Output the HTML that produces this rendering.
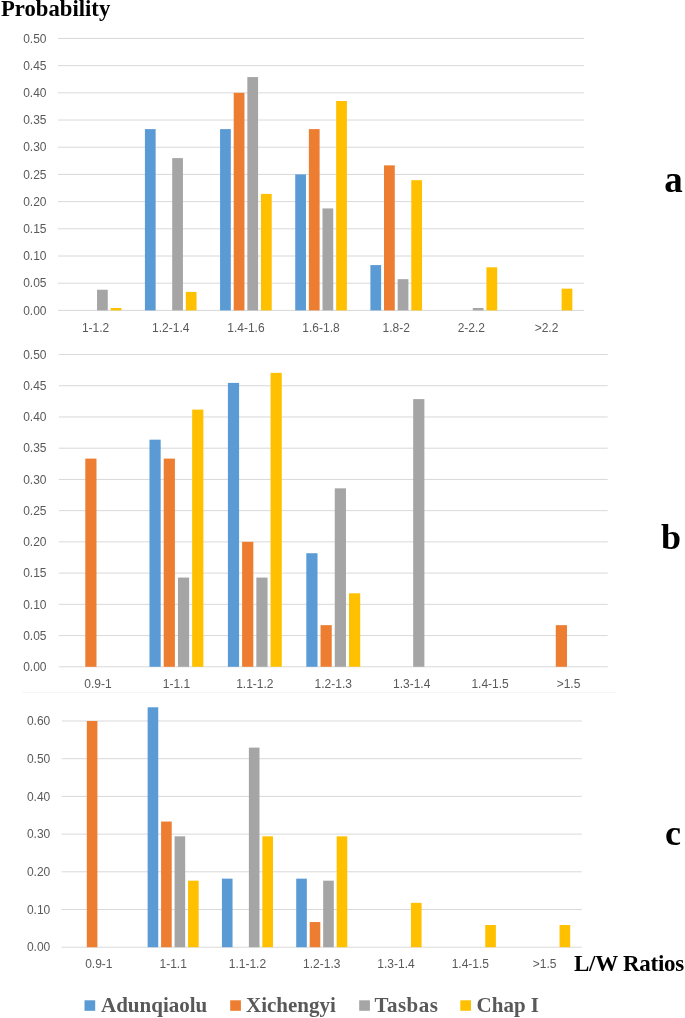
<!DOCTYPE html>
<html><head><meta charset="utf-8"><style>
html,body{margin:0;padding:0;background:#fff;}
body{width:685px;height:1018px;overflow:hidden;position:relative;}
svg{position:absolute;left:0;top:0;will-change:transform;}
.yl{font-family:"Liberation Sans",sans-serif;font-size:12px;fill:#595959;text-anchor:end;}
.xl{font-family:"Liberation Sans",sans-serif;font-size:12px;fill:#595959;text-anchor:middle;}
.big{font-family:"Liberation Serif",serif;font-weight:bold;fill:#000;}
.lg{font-family:"Liberation Serif",serif;font-weight:bold;font-size:21px;fill:#595959;}
</style></head><body>
<svg width="685" height="1018" viewBox="0 0 685 1018">
<rect x="0" y="0" width="685" height="1018" fill="#fff"/>
<rect x="22" y="692" width="594" height="1" fill="#F6F6F6"/>
<rect x="58.00" y="309.90" width="526.10" height="1" fill="#D9D9D9"/>
<text class="yl" x="46.50" y="314.60">0.00</text>
<rect x="58.00" y="282.70" width="526.10" height="1" fill="#D9D9D9"/>
<text class="yl" x="46.50" y="287.40">0.05</text>
<rect x="58.00" y="255.51" width="526.10" height="1" fill="#D9D9D9"/>
<text class="yl" x="46.50" y="260.21">0.10</text>
<rect x="58.00" y="228.31" width="526.10" height="1" fill="#D9D9D9"/>
<text class="yl" x="46.50" y="233.01">0.15</text>
<rect x="58.00" y="201.12" width="526.10" height="1" fill="#D9D9D9"/>
<text class="yl" x="46.50" y="205.82">0.20</text>
<rect x="58.00" y="173.92" width="526.10" height="1" fill="#D9D9D9"/>
<text class="yl" x="46.50" y="178.62">0.25</text>
<rect x="58.00" y="146.73" width="526.10" height="1" fill="#D9D9D9"/>
<text class="yl" x="46.50" y="151.43">0.30</text>
<rect x="58.00" y="119.53" width="526.10" height="1" fill="#D9D9D9"/>
<text class="yl" x="46.50" y="124.23">0.35</text>
<rect x="58.00" y="92.34" width="526.10" height="1" fill="#D9D9D9"/>
<text class="yl" x="46.50" y="97.04">0.40</text>
<rect x="58.00" y="65.14" width="526.10" height="1" fill="#D9D9D9"/>
<text class="yl" x="46.50" y="69.84">0.45</text>
<rect x="58.00" y="37.95" width="526.10" height="1" fill="#D9D9D9"/>
<text class="yl" x="46.50" y="42.65">0.50</text>
<rect x="97.03" y="289.73" width="10.74" height="20.67" fill="#A5A5A5"/>
<rect x="110.66" y="308.01" width="10.74" height="2.39" fill="#FFC000"/>
<text class="xl" x="95.58" y="331.70">1-1.2</text>
<rect x="144.91" y="129.10" width="10.74" height="181.30" fill="#5B9BD5"/>
<rect x="172.19" y="158.11" width="10.74" height="152.29" fill="#A5A5A5"/>
<rect x="185.82" y="291.91" width="10.74" height="18.49" fill="#FFC000"/>
<text class="xl" x="170.74" y="331.70">1.2-1.4</text>
<rect x="220.07" y="129.10" width="10.74" height="181.30" fill="#5B9BD5"/>
<rect x="233.71" y="92.84" width="10.74" height="217.56" fill="#ED7D31"/>
<rect x="247.34" y="77.07" width="10.74" height="233.33" fill="#A5A5A5"/>
<rect x="260.98" y="193.90" width="10.74" height="116.50" fill="#FFC000"/>
<text class="xl" x="245.89" y="331.70">1.4-1.6</text>
<rect x="295.23" y="174.42" width="10.74" height="135.97" fill="#5B9BD5"/>
<rect x="308.86" y="129.10" width="10.74" height="181.30" fill="#ED7D31"/>
<rect x="322.50" y="208.42" width="10.74" height="101.98" fill="#A5A5A5"/>
<rect x="336.14" y="101.00" width="10.74" height="209.40" fill="#FFC000"/>
<text class="xl" x="321.05" y="331.70">1.6-1.8</text>
<rect x="370.39" y="265.07" width="10.74" height="45.32" fill="#5B9BD5"/>
<rect x="384.02" y="165.36" width="10.74" height="145.04" fill="#ED7D31"/>
<rect x="397.66" y="279.18" width="10.74" height="31.22" fill="#A5A5A5"/>
<rect x="411.29" y="180.19" width="10.74" height="130.21" fill="#FFC000"/>
<text class="xl" x="396.21" y="331.70">1.8-2</text>
<rect x="472.81" y="308.01" width="10.74" height="2.39" fill="#A5A5A5"/>
<rect x="486.45" y="267.32" width="10.74" height="43.08" fill="#FFC000"/>
<text class="xl" x="471.36" y="331.70">2-2.2</text>
<rect x="561.61" y="288.64" width="10.74" height="21.76" fill="#FFC000"/>
<text class="xl" x="546.52" y="331.70">&gt;2.2</text>
<rect x="58.80" y="666.30" width="548.90" height="1" fill="#D9D9D9"/>
<text class="yl" x="46.50" y="671.00">0.00</text>
<rect x="58.80" y="635.07" width="548.90" height="1" fill="#D9D9D9"/>
<text class="yl" x="46.50" y="639.77">0.05</text>
<rect x="58.80" y="603.84" width="548.90" height="1" fill="#D9D9D9"/>
<text class="yl" x="46.50" y="608.54">0.10</text>
<rect x="58.80" y="572.61" width="548.90" height="1" fill="#D9D9D9"/>
<text class="yl" x="46.50" y="577.31">0.15</text>
<rect x="58.80" y="541.38" width="548.90" height="1" fill="#D9D9D9"/>
<text class="yl" x="46.50" y="546.08">0.20</text>
<rect x="58.80" y="510.15" width="548.90" height="1" fill="#D9D9D9"/>
<text class="yl" x="46.50" y="514.85">0.25</text>
<rect x="58.80" y="478.92" width="548.90" height="1" fill="#D9D9D9"/>
<text class="yl" x="46.50" y="483.62">0.30</text>
<rect x="58.80" y="447.69" width="548.90" height="1" fill="#D9D9D9"/>
<text class="yl" x="46.50" y="452.39">0.35</text>
<rect x="58.80" y="416.46" width="548.90" height="1" fill="#D9D9D9"/>
<text class="yl" x="46.50" y="421.16">0.40</text>
<rect x="58.80" y="385.23" width="548.90" height="1" fill="#D9D9D9"/>
<text class="yl" x="46.50" y="389.93">0.45</text>
<rect x="58.80" y="354.00" width="548.90" height="1" fill="#D9D9D9"/>
<text class="yl" x="46.50" y="358.70">0.50</text>
<rect x="85.29" y="458.60" width="11.20" height="208.20" fill="#ED7D31"/>
<text class="xl" x="98.01" y="687.70">0.9-1</text>
<rect x="149.48" y="439.67" width="11.20" height="227.13" fill="#5B9BD5"/>
<rect x="163.71" y="458.60" width="11.20" height="208.20" fill="#ED7D31"/>
<rect x="177.93" y="577.57" width="11.20" height="89.23" fill="#A5A5A5"/>
<rect x="192.16" y="409.61" width="11.20" height="257.19" fill="#FFC000"/>
<text class="xl" x="176.42" y="687.70">1-1.1</text>
<rect x="227.89" y="382.89" width="11.20" height="283.91" fill="#5B9BD5"/>
<rect x="242.12" y="541.88" width="11.20" height="124.92" fill="#ED7D31"/>
<rect x="256.35" y="577.57" width="11.20" height="89.23" fill="#A5A5A5"/>
<rect x="270.57" y="372.87" width="11.20" height="293.93" fill="#FFC000"/>
<text class="xl" x="254.84" y="687.70">1.1-1.2</text>
<rect x="306.31" y="553.24" width="11.20" height="113.56" fill="#5B9BD5"/>
<rect x="320.54" y="625.16" width="11.20" height="41.64" fill="#ED7D31"/>
<rect x="334.76" y="488.34" width="11.20" height="178.46" fill="#A5A5A5"/>
<rect x="348.99" y="593.32" width="11.20" height="73.48" fill="#FFC000"/>
<text class="xl" x="333.25" y="687.70">1.2-1.3</text>
<rect x="413.18" y="399.11" width="11.20" height="267.69" fill="#A5A5A5"/>
<text class="xl" x="411.66" y="687.70">1.3-1.4</text>
<text class="xl" x="490.08" y="687.70">1.4-1.5</text>
<rect x="555.78" y="625.16" width="11.20" height="41.64" fill="#ED7D31"/>
<text class="xl" x="568.49" y="687.70">&gt;1.5</text>
<rect x="61.70" y="946.70" width="520.10" height="1" fill="#D9D9D9"/>
<text class="yl" x="50.30" y="951.40">0.00</text>
<rect x="61.70" y="909.00" width="520.10" height="1" fill="#D9D9D9"/>
<text class="yl" x="50.30" y="913.70">0.10</text>
<rect x="61.70" y="871.30" width="520.10" height="1" fill="#D9D9D9"/>
<text class="yl" x="50.30" y="876.00">0.20</text>
<rect x="61.70" y="833.60" width="520.10" height="1" fill="#D9D9D9"/>
<text class="yl" x="50.30" y="838.30">0.30</text>
<rect x="61.70" y="795.90" width="520.10" height="1" fill="#D9D9D9"/>
<text class="yl" x="50.30" y="800.60">0.40</text>
<rect x="61.70" y="758.20" width="520.10" height="1" fill="#D9D9D9"/>
<text class="yl" x="50.30" y="762.90">0.50</text>
<rect x="61.70" y="720.50" width="520.10" height="1" fill="#D9D9D9"/>
<text class="yl" x="50.30" y="725.20">0.60</text>
<rect x="86.80" y="721.00" width="10.61" height="226.20" fill="#ED7D31"/>
<text class="xl" x="98.85" y="967.70">0.9-1</text>
<rect x="147.62" y="707.29" width="10.61" height="239.91" fill="#5B9BD5"/>
<rect x="161.10" y="821.53" width="10.61" height="125.67" fill="#ED7D31"/>
<rect x="174.58" y="836.32" width="10.61" height="110.88" fill="#A5A5A5"/>
<rect x="188.06" y="880.67" width="10.61" height="66.53" fill="#FFC000"/>
<text class="xl" x="173.15" y="967.70">1-1.1</text>
<rect x="221.92" y="878.65" width="10.61" height="68.55" fill="#5B9BD5"/>
<rect x="248.88" y="747.61" width="10.61" height="199.59" fill="#A5A5A5"/>
<rect x="262.36" y="836.32" width="10.61" height="110.88" fill="#FFC000"/>
<text class="xl" x="247.45" y="967.70">1.1-1.2</text>
<rect x="296.22" y="878.65" width="10.61" height="68.55" fill="#5B9BD5"/>
<rect x="309.70" y="922.07" width="10.61" height="25.13" fill="#ED7D31"/>
<rect x="323.18" y="880.67" width="10.61" height="66.53" fill="#A5A5A5"/>
<rect x="336.66" y="836.32" width="10.61" height="110.88" fill="#FFC000"/>
<text class="xl" x="321.75" y="967.70">1.2-1.3</text>
<rect x="410.96" y="902.85" width="10.61" height="44.35" fill="#FFC000"/>
<text class="xl" x="396.05" y="967.70">1.3-1.4</text>
<rect x="485.26" y="925.02" width="10.61" height="22.18" fill="#FFC000"/>
<text class="xl" x="470.35" y="967.70">1.4-1.5</text>
<rect x="559.56" y="925.02" width="10.61" height="22.18" fill="#FFC000"/>
<text class="xl" x="544.65" y="967.70">&gt;1.5</text>
<text class="big" x="1" y="15.9" style="font-size:22.7px">Probability</text>
<text class="big" x="664.3" y="192.2" style="font-size:37px">a</text>
<text class="big" x="661" y="549" style="font-size:36px">b</text>
<text class="big" x="665" y="845.4" style="font-size:36px">c</text>
<text class="big" x="574" y="970.8" style="font-size:23px" textLength="110.3" lengthAdjust="spacing">L/W Ratios</text>
<rect x="84.5" y="1000.3" width="10.7" height="10.5" fill="#5B9BD5"/>
<text class="lg" x="101" y="1012.4">Adunqiaolu</text>
<rect x="230.2" y="1000.3" width="10.7" height="10.5" fill="#ED7D31"/>
<text class="lg" x="246" y="1012.4">Xichengyi</text>
<rect x="359.2" y="1000.3" width="10.7" height="10.5" fill="#A5A5A5"/>
<text class="lg" x="374.4" y="1012.4" textLength="63.5" lengthAdjust="spacing">Tasbas</text>
<rect x="460.3" y="1000.3" width="10.7" height="10.5" fill="#FFC000"/>
<text class="lg" x="476.6" y="1012.4">Chap I</text>
</svg>
</body></html>
